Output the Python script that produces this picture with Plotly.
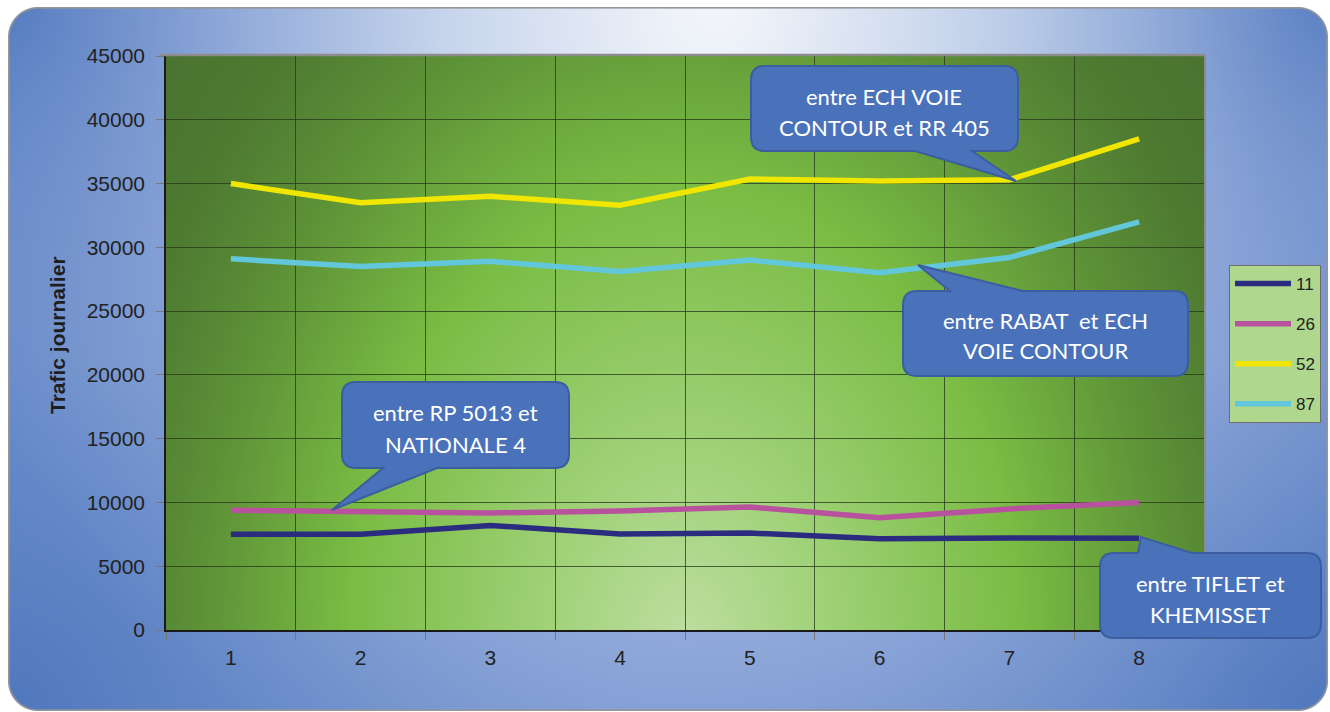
import numpy as np
import zlib, struct, base64
import plotly.graph_objects as go

# ---------------- data ----------------
categories = [1, 2, 3, 4, 5, 6, 7, 8]
series_names = ["11", "26", "52", "87"]
s11 = [7500, 7500, 8200, 7530, 7600, 7150, 7220, 7190]
s26 = [9380, 9250, 9180, 9330, 9640, 8800, 9490, 10000]
s52 = [35000, 33500, 34000, 33300, 35350, 35200, 35300, 38500]
s87 = [29100, 28500, 28900, 28100, 29000, 28000, 29200, 32000]
y_title = "Trafic journalier"
callout_texts = [
    ["entre ECH VOIE", "CONTOUR et RR 405"],
    ["entre RABAT  et ECH", "VOIE CONTOUR"],
    ["entre RP 5013 et", "NATIONALE 4"],
    ["entre TIFLET et", "KHEMISSET"],
]

series_values = [s11, s26, s52, s87]
series_colors = ["#2b2c80", "#b8529e", "#f0e600", "#62c7da"]

# ---------------- geometry (pixels) ----------------
W, H = 1330, 712
L, R, T, B = 166, 1204, 56, 630
PW, PH = R - L, B - T


def px(x):
    return (x - L) / PW


def py(y):
    return (B - y) / PH


# ---------------- PNG helper ----------------
def png_uri(arr):
    arr = np.ascontiguousarray(arr.astype(np.uint8))
    h, w, c = arr.shape
    ctype = 6 if c == 4 else 2
    rows = arr.reshape(h, w * c).astype(np.int16)
    up = rows.copy()
    up[1:] = rows[1:] - rows[:-1]
    up = (up % 256).astype(np.uint8)
    filt = np.empty((h, w * c + 1), dtype=np.uint8)
    filt[:, 0] = 2
    filt[:, 1:] = up
    data = zlib.compress(filt.tobytes(), 9)

    def chunk(tag, d):
        return struct.pack(">I", len(d)) + tag + d + struct.pack(">I", zlib.crc32(tag + d) & 0xFFFFFFFF)

    png = b"\x89PNG\r\n\x1a\n" + chunk(b"IHDR", struct.pack(">IIBBBBB", w, h, 8, ctype, 0, 0, 0)) \
        + chunk(b"IDAT", data) + chunk(b"IEND", b"")
    return "data:image/png;base64," + base64.b64encode(png).decode()


def grad(t, stops, cols):
    cols = np.array(cols, dtype=float)
    return np.stack([np.interp(t, stops, cols[:, k]) for k in range(3)], axis=-1)


# card background
yy, xx = np.mgrid[0:H, 0:W].astype(float) + 0.5
t = np.sqrt(((xx - 720) / 820) ** 2 + ((yy - 0) / 900) ** 2)
card = grad(t, [0, 0.35, 0.7, 1.0, 1.5],
            [(250, 251, 253), (208, 220, 240), (148, 172, 220), (108, 142, 203), (90, 128, 195)])
corners = [(8, 7), (1328, 7), (8, 711), (1328, 711)]
dc = np.min([np.hypot(xx - cx, yy - cy) for cx, cy in corners], axis=0)
f = (np.exp(-dc / 200.0) * 0.7)[..., None]
card = card * (1 - f) + np.array([70, 112, 185]) * f
# rounded rect mask
cxm, cym = (8 + 1328) / 2, (7 + 711) / 2
hx, hy, rr = (1328 - 8) / 2, (711 - 7) / 2, 30
qx = np.abs(xx - cxm) - (hx - rr)
qy = np.abs(yy - cym) - (hy - rr)
sd = np.hypot(np.maximum(qx, 0), np.maximum(qy, 0)) + np.minimum(np.maximum(qx, qy), 0) - rr
alpha = np.clip(0.5 - sd, 0, 1)
bmix = np.clip(1.3 - np.abs(sd + 0.8), 0, 1)[..., None]
card = card * (1 - bmix) + np.array([150, 150, 150]) * bmix
card_rgba = np.concatenate([np.clip(card, 0, 255), (alpha * 255)[..., None]], axis=-1)
card_uri = png_uri(card_rgba)

# plot area background
yy2, xx2 = np.mgrid[0:PH, 0:PW].astype(float) + 0.5
t2 = np.sqrt(((xx2 - 519) / 560) ** 2 + ((yy2 - 584) / 760) ** 2)
plot_bg = grad(t2, [0, 0.25, 0.6, 0.85, 1.05, 1.4],
               [(190, 222, 160), (160, 210, 120), (122, 188, 68), (95, 148, 56), (78, 122, 50), (70, 108, 45)])
plot_uri = png_uri(np.clip(plot_bg, 0, 255))

# ---------------- figure ----------------
fig = go.Figure()
for name, vals, col in zip(series_names, series_values, series_colors):
    fig.add_trace(go.Scatter(
        x=categories, y=vals, name=name, mode="lines",
        line=dict(color=col, width=5.5), legendgroup=name,
        hoverinfo="x+y+name",
    ))

images = [
    dict(source=card_uri, xref="paper", yref="paper", x=px(0), y=py(0),
         sizex=W / PW, sizey=H / PH, xanchor="left", yanchor="top",
         sizing="stretch", layer="below"),
    dict(source=plot_uri, xref="paper", yref="paper", x=0, y=1, sizex=1, sizey=1,
         xanchor="left", yanchor="top", sizing="stretch", layer="below"),
]

shapes = [
    dict(type="line", xref="paper", yref="paper", x0=px(160), x1=px(R + 1), y0=py(T - 1), y1=py(T - 1),
         line=dict(color="#8c8c8c", width=2.5), layer="above"),
    dict(type="line", xref="paper", yref="paper", x0=px(R + 1), x1=px(R + 1), y0=py(T - 1), y1=py(B),
         line=dict(color="#8c8c8c", width=2), layer="above"),
]

# callouts: box (x0,y0,x1,y1), tail side, tail base, tip
callout_geo = [
    dict(box=(751, 66, 1018, 151), side="bottom", base=(915, 972), tip=(1016, 181), tx=884, ty=(95, 127)),
    dict(box=(903, 291, 1188, 376), side="top", base=(950, 1023), tip=(918, 265), tx=1045, ty=(319, 349)),
    dict(box=(342, 382, 569, 468), side="bottom", base=(383, 437), tip=(332, 510), tx=455, ty=(411, 443)),
    dict(box=(1100, 553, 1321, 638), side="top", base=(1138, 1192), tip=(1141, 537), tx=1210, ty=(582, 613)),
]


def callout_path(box, side, base, tip, r=14):
    x0, y0, x1, y1 = box
    b0, b1 = base
    tx, ty = tip

    def P(x, y):
        return f"{px(x):.5f},{py(y):.5f}"

    s = f"M{P(x0 + r, y0)}"
    if side == "top":
        s += f" L{P(b0, y0)} L{P(tx, ty)} L{P(b1, y0)}"
    s += f" L{P(x1 - r, y0)} Q{P(x1, y0)} {P(x1, y0 + r)}"
    s += f" L{P(x1, y1 - r)} Q{P(x1, y1)} {P(x1 - r, y1)}"
    if side == "bottom":
        s += f" L{P(b1, y1)} L{P(tx, ty)} L{P(b0, y1)}"
    s += f" L{P(x0 + r, y1)} Q{P(x0, y1)} {P(x0, y1 - r)}"
    s += f" L{P(x0, y0 + r)} Q{P(x0, y0)} {P(x0 + r, y0)} Z"
    return s


annotations = []
for geo, lines in zip(callout_geo, callout_texts):
    shapes.append(dict(type="path", xref="paper", yref="paper",
                       path=callout_path(geo["box"], geo["side"], geo["base"], geo["tip"]),
                       fillcolor="#4a72ba", line=dict(color="#3a5e9f", width=2), layer="above"))
    for txt, ty in zip(lines, geo["ty"]):
        annotations.append(dict(text=txt, xref="paper", yref="paper", x=px(geo["tx"]), y=py(ty + 1),
                                xanchor="center", yanchor="middle", showarrow=False,
                                font=dict(family="Lato, Noto Sans, sans-serif", size=22, color="white")))

annotations.append(dict(text="<b>" + y_title + "</b>", xref="paper", yref="paper", x=px(57), y=py(335),
                        xanchor="center", yanchor="middle", showarrow=False, textangle=-90,
                        font=dict(family="Liberation Sans, Arial, sans-serif", size=21, color="#1e1e1e")))

axis_font = dict(family="Liberation Sans, Arial, sans-serif", size=21, color="#222222")

fig.update_layout(
    width=W, height=H,
    margin=dict(l=L, r=W - R, t=T, b=H - B, pad=0, autoexpand=False),
    paper_bgcolor="white",
    plot_bgcolor="rgba(0,0,0,0)",
    images=images,
    shapes=shapes,
    annotations=annotations,
    showlegend=True,
    legend=dict(x=px(1229), y=py(265), xanchor="left", yanchor="top",
                bgcolor="#b0d78e", bordercolor="#6e6e6e", borderwidth=1,
                font=dict(family="Liberation Sans, Arial, sans-serif", size=17, color="#222222"),
                itemwidth=56, tracegroupgap=15, traceorder="grouped"),
    xaxis=dict(range=[0.5, 8.5], tickmode="array", tickvals=categories,
               ticktext=[str(c) for c in categories], showgrid=False, zeroline=False,
               ticks="", showline=True, linecolor="#1a1a1a", linewidth=1.5,
               tickfont=axis_font, ticklabelstandoff=8,
               minor=dict(tickmode="linear", tick0=0.5, dtick=1, showgrid=True,
                          gridcolor="rgba(35,55,25,0.75)", gridwidth=1.2,
                          ticks="outside", ticklen=8, tickcolor="#777777", tickwidth=1)),
    yaxis=dict(range=[0, 45000], tickmode="linear", tick0=0, dtick=5000, tickformat="d",
               showgrid=True, gridcolor="rgba(35,55,25,0.75)", gridwidth=1.2, zeroline=False,
               ticks="outside", ticklen=8, tickcolor="#777777", tickwidth=1,
               showline=True, linecolor="#1a1a1a", linewidth=1.5,
               tickfont=axis_font, ticklabelstandoff=7),
)

fig.write_html("out.html", config={"displayModeBar": False},
               post_script="document.body.style.margin='0';document.body.style.overflow='hidden';")
